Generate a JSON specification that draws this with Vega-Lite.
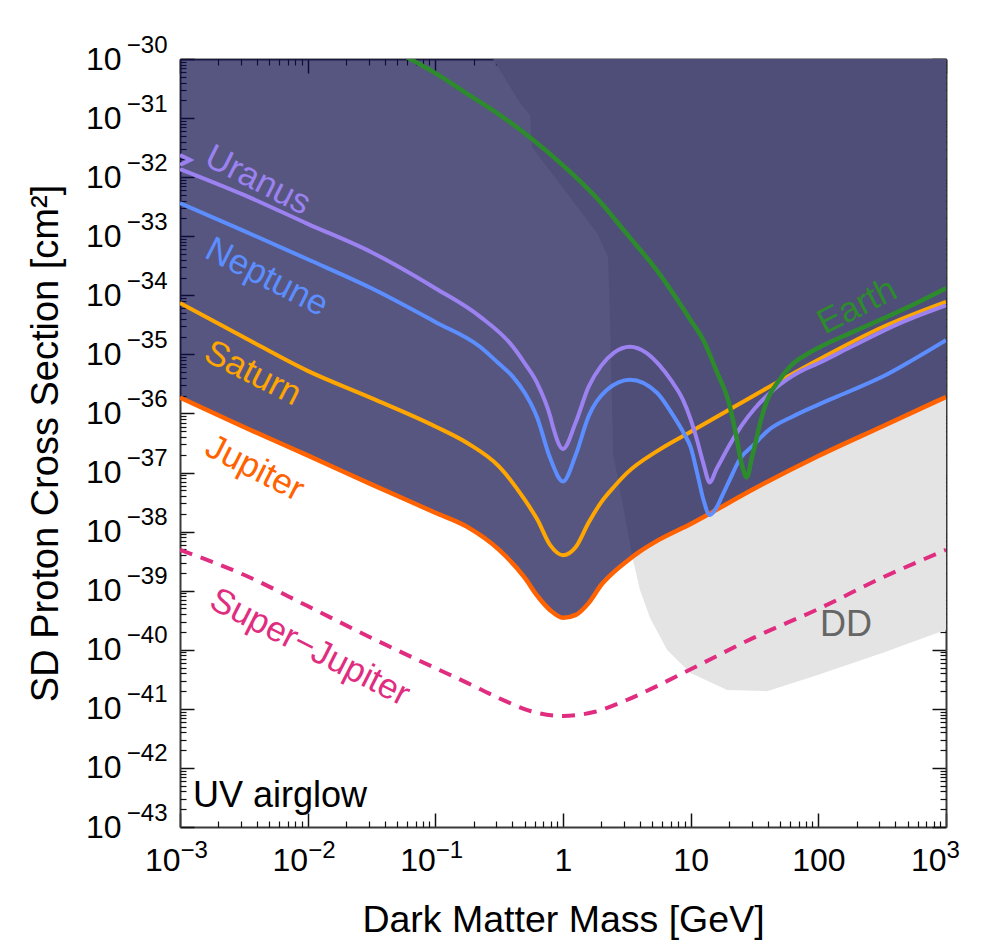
{
  "$schema": "https://vega.github.io/schema/vega-lite/v6.json",
  "width": 766,
  "height": 768,
  "autosize": {"type": "none"},
  "padding": {"left": 180, "top": 59, "right": 43, "bottom": 116},
  "background": "white",
  "config": {"font": "Liberation Sans", "view": {"stroke": null}, "axis": {"zindex": 1, "grid": false}},
  "resolve": {"axis": {"x": "independent", "y": "independent"}},
  "datasets": {
    "dd": [{"m":0.283,"s":1e-30},{"m":0.46,"s":1.799e-31},{"m":0.551,"s":1.127e-31},{"m":0.571,"s":3.236e-32},{"m":1.845,"s":1.135e-33},{"m":2.25,"s":4.467e-34},{"m":2.333,"s":3.802e-35},{"m":2.465,"s":2.138e-37},{"m":3.535,"s":3.311e-39},{"m":4.01,"s":1.023e-39},{"m":4.8,"s":3.467e-40},{"m":6.53,"s":1e-40},{"m":9.89,"s":4.074e-41},{"m":19.3,"s":2.089e-41},{"m":39.6,"s":1.995e-41},{"m":97.5,"s":3.715e-41},{"m":320.6,"s":8.913e-41},{"m":1000,"s":2.188e-40}],
    "jupiter": [{"m":0.001,"s":1.862e-36},{"m":0.0031623,"s":5.888e-37},{"m":0.01,"s":1.95e-37},{"m":0.031623,"s":6.31e-38},{"m":0.1,"s":2.089e-38},{"m":0.17783,"s":1.202e-38},{"m":0.31623,"s":4.898e-39},{"m":0.50119,"s":1.66e-39},{"m":0.63096,"s":8.128e-40},{"m":0.79433,"s":4.677e-40},{"m":1,"s":3.467e-40},{"m":1.2589,"s":3.89e-40},{"m":1.5849,"s":6.166e-40},{"m":1.9953,"s":1.259e-39},{"m":2.5119,"s":2.089e-39},{"m":3.1623,"s":3.162e-39},{"m":3.9811,"s":4.571e-39},{"m":5.6234,"s":7.244e-39},{"m":10,"s":1.349e-38},{"m":31.623,"s":5.37e-38},{"m":100,"s":1.905e-37},{"m":316.23,"s":6.026e-37},{"m":1000,"s":1.905e-36}],
    "saturn": [{"m":0.001,"s":7.413e-35},{"m":0.0031623,"s":1.95e-35},{"m":0.01,"s":5.248e-36},{"m":0.031623,"s":1.82e-36},{"m":0.1,"s":6.026e-37},{"m":0.17783,"s":3.162e-37},{"m":0.31623,"s":1.259e-37},{"m":0.50119,"s":3.467e-38},{"m":0.63096,"s":1.585e-38},{"m":0.79433,"s":5.888e-39},{"m":1,"s":3.981e-39},{"m":1.2589,"s":5.495e-39},{"m":1.5849,"s":1.413e-38},{"m":1.9953,"s":3.162e-38},{"m":2.5119,"s":5.754e-38},{"m":3.1623,"s":9.772e-38},{"m":5.6234,"s":2.399e-37},{"m":10,"s":4.898e-37},{"m":31.623,"s":2.042e-36},{"m":100,"s":8.128e-36},{"m":316.23,"s":2.884e-35},{"m":1000,"s":7.762e-35}],
    "neptune": [{"m":0.001,"s":3.631e-33},{"m":0.0031623,"s":1.23e-33},{"m":0.01,"s":4.074e-34},{"m":0.031623,"s":1.318e-34},{"m":0.1,"s":3.548e-35},{"m":0.22387,"s":1.349e-35},{"m":0.31623,"s":6.918e-36},{"m":0.40551,"s":4.169e-36},{"m":0.50119,"s":2.239e-36},{"m":0.62517,"s":8.71e-37},{"m":0.79433,"s":1.738e-37},{"m":1,"s":7.079e-38},{"m":1.2589,"s":1.995e-37},{"m":1.5849,"s":8.913e-37},{"m":2.2131,"s":2.512e-36},{"m":3.3497,"s":3.715e-36},{"m":5.445,"s":2.239e-36},{"m":7.0795,"s":1.023e-36},{"m":8.9125,"s":4.467e-37},{"m":10,"s":2.692e-37},{"m":11.22,"s":1e-37},{"m":12.589,"s":3.467e-38},{"m":14.125,"s":1.905e-38},{"m":15.849,"s":2.512e-38},{"m":17.783,"s":4.169e-38},{"m":19.953,"s":7.079e-38},{"m":24.322,"s":1.698e-37},{"m":31.623,"s":3.02e-37},{"m":39.811,"s":5.012e-37},{"m":63.096,"s":8.913e-37},{"m":100,"s":1.413e-36},{"m":177.83,"s":2.399e-36},{"m":316.23,"s":4.169e-36},{"m":562.34,"s":8.318e-36},{"m":1000,"s":1.738e-35}],
    "uranus": [{"m":0.001,"s":1.374e-32},{"m":0.0031623,"s":5.012e-33},{"m":0.01,"s":1.622e-33},{"m":0.031623,"s":5.37e-34},{"m":0.1,"s":1.318e-34},{"m":0.22387,"s":4.365e-35},{"m":0.40551,"s":1.349e-35},{"m":0.50119,"s":7.079e-36},{"m":0.62517,"s":3.311e-36},{"m":0.79433,"s":8.913e-37},{"m":0.8356,"s":5.888e-37},{"m":1,"s":2.512e-37},{"m":1.2589,"s":7.079e-37},{"m":1.5849,"s":2.818e-36},{"m":1.9953,"s":6.457e-36},{"m":2.5119,"s":1.072e-35},{"m":3.3497,"s":1.349e-35},{"m":4.4668,"s":1.072e-35},{"m":5.6234,"s":6.761e-36},{"m":7.0795,"s":3.548e-36},{"m":8.7096,"s":1.698e-36},{"m":10,"s":7.943e-37},{"m":11.22,"s":3.548e-37},{"m":12.589,"s":1.413e-37},{"m":14.125,"s":6.761e-38},{"m":15.849,"s":1.122e-37},{"m":17.783,"s":1.778e-37},{"m":19.953,"s":2.818e-37},{"m":25.119,"s":6.31e-37},{"m":31.623,"s":1.202e-36},{"m":44.668,"s":2.512e-36},{"m":70.795,"s":5.012e-36},{"m":100,"s":7.079e-36},{"m":177.83,"s":1.318e-35},{"m":436.5,"s":3.388e-35},{"m":1000,"s":6.761e-35}],
    "uranushook": [{"m":0.001,"s":2.371e-32,"i":0},{"m":0.0012,"s":1.95e-32,"i":1},{"m":0.001,"s":1.607e-32,"i":2}],
    "earth": [{"m":0.0501,"s":1.318e-30},{"m":0.1,"s":5.754e-31},{"m":0.17783,"s":2.57e-31},{"m":0.31623,"s":1.148e-31},{"m":0.56234,"s":4.571e-32},{"m":1,"s":1.585e-32},{"m":1.7783,"s":4.786e-33},{"m":3.1623,"s":1.096e-33},{"m":5.6234,"s":2.399e-34},{"m":10,"s":3.802e-35},{"m":12.589,"s":1.738e-35},{"m":15.849,"s":5.37e-36},{"m":19.953,"s":1.514e-36},{"m":22.387,"s":5.012e-37},{"m":25.119,"s":1.38e-37},{"m":27.542,"s":8.318e-38},{"m":30.2,"s":1.82e-37},{"m":31.623,"s":2.692e-37},{"m":35.48,"s":7.762e-37},{"m":39.81,"s":1.698e-36},{"m":50.12,"s":3.802e-36},{"m":63.1,"s":6.918e-36},{"m":79.43,"s":9.772e-36},{"m":100,"s":1.288e-35},{"m":177.8,"s":2.291e-35},{"m":316.2,"s":3.981e-35},{"m":562.3,"s":7.079e-35},{"m":1000,"s":1.318e-34}],
    "superjup": [{"m":0.001,"s":4.898e-39},{"m":0.0031623,"s":1.862e-39},{"m":0.01,"s":5.495e-40},{"m":0.031623,"s":1.585e-40},{"m":0.1,"s":4.898e-41},{"m":0.17783,"s":2.754e-41},{"m":0.31623,"s":1.514e-41},{"m":0.56234,"s":9.12e-42},{"m":1,"s":7.586e-42},{"m":1.7783,"s":8.913e-42},{"m":3.1623,"s":1.413e-41},{"m":5.6234,"s":2.512e-41},{"m":10,"s":4.677e-41},{"m":31.623,"s":1.622e-40},{"m":100,"s":4.898e-40},{"m":316.23,"s":1.66e-39},{"m":1000,"s":4.898e-39}],
    "rotlabels": [{"name":"Uranus","m":0.00408,"s":8.95e-33},{"name":"Neptune","m":0.0048,"s":2.04e-34},{"name":"Saturn","m":0.00373,"s":4.84e-36},{"name":"Jupiter","m":0.00386,"s":1.19e-37},{"name":"Super−Jupiter","m":0.01042,"s":1.11e-40}],
    "earthlabel": [{"name":"Earth","m":201,"s":6.59e-35}],
    "ddlabel": [{"name":"DD","m":165,"s":2.63e-40}],
    "uvlabel": [{"name":"UV airglow","m":0.001264,"s":2.18e-43}]
  },
  "layer": [
    {
      "data": {"name": "dd"},
      "mark": {"type": "area", "color": "#E4E4E4", "clip": true},
      "encoding": {
        "x": {"field": "m", "type": "quantitative", "scale": {"type": "log", "domain": [0.001, 1000], "nice": false},
          "axis": {"orient": "bottom", "values": [0.001, 0.01, 0.1, 1, 10, 100, 1000],
            "labelExpr": "datum.value < 0.5 || datum.value > 500 ? '10' : datum.value < 2 ? '1' : datum.value < 20 ? '10' : '100'",
            "labelAlign": {"condition": {"test": "datum.value < 0.5 || datum.value > 500", "value": "right"}, "value": "center"},
            "tickSize": -14, "tickWidth": 1.5, "tickColor": "#111111", "domain": true, "domainColor": "#3a3a3a", "domainWidth": 2,
            "labelFontSize": 32, "labelPadding": 32, "labelColor": "#000000", "labelFlush": false, "labelOverlap": false,
            "title": "Dark Matter Mass [GeV]", "titleFontSize": 37.5, "titleFontWeight": "normal", "titleColor": "#000000", "titlePadding": 25}},
        "y": {"field": "s", "type": "quantitative", "scale": {"type": "log", "domain": [1e-43, 1e-30], "nice": false},
          "axis": {"orient": "left", "values": [1e-43,1e-42,1e-41,1e-40,1e-39,1e-38,1e-37,1e-36,1e-35,1e-34,1e-33,1e-32,1e-31,1e-30],
            "labelExpr": "'10'", "labelAlign": "right", "labelBaseline": "middle",
            "tickSize": -14, "tickWidth": 1.5, "tickColor": "#111111", "domain": true, "domainColor": "#3a3a3a", "domainWidth": 2,
            "labelFontSize": 32, "labelPadding": 73, "labelColor": "#000000", "labelFlush": false, "labelOverlap": false,
            "title": "SD Proton Cross Section [cm²]", "titleFontSize": 38, "titleFontWeight": "normal", "titleColor": "#000000", "titlePadding": 20}},
        "y2": {"datum": 1e-30}
      }
    },
    {
      "data": {"name": "jupiter"},
      "mark": {"type": "area", "color": "#0B0A47", "opacity": 0.69, "clip": true},
      "encoding": {
        "x": {"field": "m", "type": "quantitative", "scale": {"type": "log", "domain": [0.001, 1000], "nice": false},
          "axis": {"orient": "bottom", "values": [0.002,0.003,0.004,0.005,0.006,0.007,0.008,0.009,0.02,0.03,0.04,0.05,0.06,0.07,0.08,0.09,0.2,0.3,0.4,0.5,0.6,0.7,0.8,0.9,2,3,4,5,6,7,8,9,20,30,40,50,60,70,80,90,200,300,400,500,600,700,800,900],
            "labels": false, "tickSize": -6, "tickWidth": 1.2, "tickColor": "#111111", "domain": false, "title": null}},
        "y": {"field": "s", "type": "quantitative", "scale": {"type": "log", "domain": [1e-43, 1e-30], "nice": false},
          "axis": {"orient": "left", "values": [2e-43,3e-43,4e-43,5e-43,6e-43,7e-43,8e-43,9e-43,2e-42,3e-42,4e-42,5e-42,6e-42,7e-42,8e-42,9e-42,2e-41,3e-41,4e-41,5e-41,6e-41,7e-41,8e-41,9e-41,2e-40,3e-40,4e-40,5e-40,6e-40,7e-40,8e-40,9e-40,2e-39,3e-39,4e-39,5e-39,6e-39,7e-39,8e-39,9e-39,2e-38,3e-38,4e-38,5e-38,6e-38,7e-38,8e-38,9e-38,2e-37,3e-37,4e-37,5e-37,6e-37,7e-37,8e-37,9e-37,2e-36,3e-36,4e-36,5e-36,6e-36,7e-36,8e-36,9e-36,2e-35,3e-35,4e-35,5e-35,6e-35,7e-35,8e-35,9e-35,2e-34,3e-34,4e-34,5e-34,6e-34,7e-34,8e-34,9e-34,2e-33,3e-33,4e-33,5e-33,6e-33,7e-33,8e-33,9e-33,2e-32,3e-32,4e-32,5e-32,6e-32,7e-32,8e-32,9e-32,2e-31,3e-31,4e-31,5e-31,6e-31,7e-31,8e-31,9e-31],
            "labels": false, "tickSize": -6, "tickWidth": 1.2, "tickColor": "#111111", "domain": false, "title": null}},
        "y2": {"datum": 1e-30}
      }
    },
    {
      "data": {"name": "superjup"},
      "mark": {"type": "line", "color": "#E02D80", "strokeWidth": 4, "strokeDash": [13, 9], "interpolate": "monotone", "clip": true},
      "encoding": {
        "x": {"field": "m", "type": "quantitative", "axis": null},
        "y": {"field": "s", "type": "quantitative", "axis": null}
      }
    },
    {
      "data": {"name": "jupiter"},
      "mark": {"type": "line", "color": "#FF6200", "strokeWidth": 4.5, "interpolate": "monotone", "clip": true},
      "encoding": {
        "x": {"field": "m", "type": "quantitative",
          "axis": {"orient": "top", "values": [0.001, 0.01, 0.1, 1, 10, 100, 1000], "labels": false, "tickSize": -14, "tickWidth": 1.5, "tickColor": "#111111", "domain": true, "domainColor": "#3a3a3a", "domainWidth": 2, "title": null}},
        "y": {"field": "s", "type": "quantitative",
          "axis": {"orient": "right", "values": [1e-43,1e-42,1e-41,1e-40,1e-39,1e-38,1e-37,1e-36,1e-35,1e-34,1e-33,1e-32,1e-31,1e-30], "labels": false, "tickSize": -14, "tickWidth": 1.5, "tickColor": "#111111", "domain": true, "domainColor": "#3a3a3a", "domainWidth": 2, "title": null}}
      }
    },
    {
      "data": {"name": "saturn"},
      "mark": {"type": "line", "color": "#FFA600", "strokeWidth": 4, "interpolate": "monotone", "clip": true},
      "encoding": {
        "x": {"field": "m", "type": "quantitative",
          "axis": {"orient": "top", "values": [0.002,0.003,0.004,0.005,0.006,0.007,0.008,0.009,0.02,0.03,0.04,0.05,0.06,0.07,0.08,0.09,0.2,0.3,0.4,0.5,0.6,0.7,0.8,0.9,2,3,4,5,6,7,8,9,20,30,40,50,60,70,80,90,200,300,400,500,600,700,800,900],
            "labels": false, "tickSize": -6, "tickWidth": 1.2, "tickColor": "#111111", "domain": false, "title": null}},
        "y": {"field": "s", "type": "quantitative",
          "axis": {"orient": "right", "values": [2e-43,3e-43,4e-43,5e-43,6e-43,7e-43,8e-43,9e-43,2e-42,3e-42,4e-42,5e-42,6e-42,7e-42,8e-42,9e-42,2e-41,3e-41,4e-41,5e-41,6e-41,7e-41,8e-41,9e-41,2e-40,3e-40,4e-40,5e-40,6e-40,7e-40,8e-40,9e-40,2e-39,3e-39,4e-39,5e-39,6e-39,7e-39,8e-39,9e-39,2e-38,3e-38,4e-38,5e-38,6e-38,7e-38,8e-38,9e-38,2e-37,3e-37,4e-37,5e-37,6e-37,7e-37,8e-37,9e-37,2e-36,3e-36,4e-36,5e-36,6e-36,7e-36,8e-36,9e-36,2e-35,3e-35,4e-35,5e-35,6e-35,7e-35,8e-35,9e-35,2e-34,3e-34,4e-34,5e-34,6e-34,7e-34,8e-34,9e-34,2e-33,3e-33,4e-33,5e-33,6e-33,7e-33,8e-33,9e-33,2e-32,3e-32,4e-32,5e-32,6e-32,7e-32,8e-32,9e-32,2e-31,3e-31,4e-31,5e-31,6e-31,7e-31,8e-31,9e-31],
            "labels": false, "tickSize": -6, "tickWidth": 1.2, "tickColor": "#111111", "domain": false, "title": null}}
      }
    },
    {
      "data": {"name": "neptune"},
      "mark": {"type": "line", "color": "#5C8EFF", "strokeWidth": 4, "interpolate": "monotone", "clip": true},
      "encoding": {
        "x": {"field": "m", "type": "quantitative",
          "axis": {"orient": "bottom", "values": [0.001, 0.01, 0.1, 1000],
            "labelExpr": "datum.value < 0.005 ? '−3' : datum.value < 0.05 ? '−2' : datum.value < 0.5 ? '−1' : '3'",
            "labelAlign": "left", "ticks": false, "domain": false, "labelFontSize": 24, "labelPadding": 11,
            "labelColor": "#000000", "labelFlush": false, "labelOverlap": false, "title": null}},
        "y": {"field": "s", "type": "quantitative",
          "axis": {"orient": "left", "values": [1e-43,1e-42,1e-41,1e-40,1e-39,1e-38,1e-37,1e-36,1e-35,1e-34,1e-33,1e-32,1e-31,1e-30],
            "labelExpr": "'−' + round(-log(datum.value) / LN10)",
            "labelAlign": "right", "labelBaseline": "middle", "ticks": false, "domain": false, "labelFontSize": 24, "labelPadding": 13, "labelOffset": -14,
            "labelColor": "#000000", "labelFlush": false, "labelOverlap": false, "title": null}}
      }
    },
    {
      "data": {"name": "uranus"},
      "mark": {"type": "line", "color": "#9B82F0", "strokeWidth": 4, "interpolate": "monotone", "clip": true},
      "encoding": {
        "x": {"field": "m", "type": "quantitative", "axis": null},
        "y": {"field": "s", "type": "quantitative", "axis": null}
      }
    },
    {
      "data": {"name": "uranushook"},
      "mark": {"type": "line", "color": "#9B82F0", "strokeWidth": 4, "clip": true},
      "encoding": {
        "x": {"field": "m", "type": "quantitative", "axis": null},
        "y": {"field": "s", "type": "quantitative", "axis": null},
        "order": {"field": "i", "type": "quantitative"}
      }
    },
    {
      "data": {"name": "earth"},
      "mark": {"type": "line", "color": "#2D8B2D", "strokeWidth": 4.5, "interpolate": "monotone", "clip": true},
      "encoding": {
        "x": {"field": "m", "type": "quantitative", "axis": null},
        "y": {"field": "s", "type": "quantitative", "axis": null}
      }
    },
    {
      "data": {"name": "rotlabels"},
      "mark": {"type": "text", "angle": 27, "fontSize": 35, "align": "center", "baseline": "middle"},
      "encoding": {
        "x": {"field": "m", "type": "quantitative", "axis": null},
        "y": {"field": "s", "type": "quantitative", "axis": null},
        "text": {"field": "name"},
        "color": {"field": "name", "type": "nominal", "legend": null,
          "scale": {"domain": ["Uranus", "Neptune", "Saturn", "Jupiter", "Super−Jupiter"], "range": ["#9B82F0", "#5C8EFF", "#FFA600", "#FF6200", "#E02D80"]}}
      }
    },
    {
      "data": {"name": "earthlabel"},
      "mark": {"type": "text", "angle": -27, "fontSize": 35, "align": "center", "baseline": "middle", "color": "#2D8B2D"},
      "encoding": {
        "x": {"field": "m", "type": "quantitative", "axis": null},
        "y": {"field": "s", "type": "quantitative", "axis": null},
        "text": {"field": "name"}
      }
    },
    {
      "data": {"name": "ddlabel"},
      "mark": {"type": "text", "fontSize": 36, "align": "center", "baseline": "middle", "color": "#666666"},
      "encoding": {
        "x": {"field": "m", "type": "quantitative", "axis": null},
        "y": {"field": "s", "type": "quantitative", "axis": null},
        "text": {"field": "name"}
      }
    },
    {
      "data": {"name": "uvlabel"},
      "mark": {"type": "text", "fontSize": 36, "align": "left", "baseline": "alphabetic", "color": "#000000"},
      "encoding": {
        "x": {"field": "m", "type": "quantitative", "axis": null},
        "y": {"field": "s", "type": "quantitative", "axis": null},
        "text": {"field": "name"}
      }
    }
  ]
}
